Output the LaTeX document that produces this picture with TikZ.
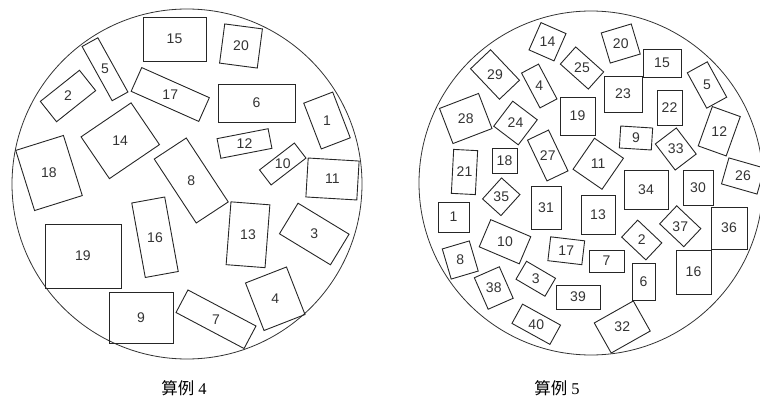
\documentclass[tikz,border=0pt]{standalone}
\usepackage{fontspec}
\setmainfont{Liberation Serif}
\setsansfont{Liberation Sans}
\newfontfamily\cjk{Noto Sans CJK SC}
\usepackage{tikz}

\tikzset{
  piece/.style={draw=black!85,line width=0.9pt,rectangle,inner sep=0pt},
  num/.style={font=\sffamily\fontsize{14}{14}\selectfont,text=black!80,inner sep=0pt},
  disc/.style={draw=black!80,line width=0.8pt},
  caption/.style={font=\fontsize{16.5}{16.5}\selectfont,inner sep=0pt}
}

\begin{document}
\begin{tikzpicture}[x=1pt,y=-1pt]
		\useasboundingbox (0,0) rectangle (760,409);
		\clip (0,0) rectangle (760,409);

		% >>> case 4
		\draw[disc] (187,184) circle[radius=175pt];

		\node[piece,minimum width=63pt,minimum height=44pt] (a15) at (174.5,39) {};
		\node[num] (a15n) at (a15) {15};
		\node[piece,minimum width=38pt,minimum height=39.5pt,rotate=-7.5] (a20) at (241,46) {};
		\node[num] (a20n) at (a20) {20};
		\node[piece,minimum width=62pt,minimum height=18pt,rotate=-61] (a5) at (105,69.25) {};
		\node[num] (a5n) at (a5) {5};
		\node[piece,minimum width=50pt,minimum height=26pt,rotate=38.5] (a2) at (68,96) {};
		\node[num] (a2n) at (a2) {2};
		\node[piece,minimum width=74pt,minimum height=26pt,rotate=-24] (a17) at (170.25,94.5) {};
		\node[num] (a17n) at (a17) {17};
		\node[piece,minimum width=77pt,minimum height=38pt] (a6) at (256.5,103) {};
		\node[num] (a6n) at (a6) {6};
		\node[piece,minimum width=31pt,minimum height=49pt,rotate=21] (a1) at (327,120.5) {};
		\node[num] (a1n) at (a1) {1};
		\node[piece,minimum width=52pt,minimum height=20pt,rotate=11] (a12) at (244.5,143.5) {};
		\node[num] (a12n) at (a12) {12};
		\node[piece,minimum width=44pt,minimum height=19pt,rotate=37.6] (a10) at (282.75,164) {};
		\node[num] (a10n) at (a10) {10};
		\node[piece,minimum width=51pt,minimum height=39pt,rotate=-3.4] (a11) at (332.5,179) {};
		\node[num] (a11n) at (a11) {11};
		\node[piece,minimum width=60.5pt,minimum height=50.5pt,rotate=34.2] (a14) at (120.25,140.75) {};
		\node[num] (a14n) at (a14) {14};
		\node[piece,minimum width=50pt,minimum height=63pt,rotate=17.4] (a18) at (49,173) {};
		\node[num] (a18n) at (a18) {18};
		\node[piece,minimum width=38.3pt,minimum height=76.5pt,rotate=33.3] (a8) at (191.25,180.5) {};
		\node[num] (a8n) at (a8) {8};
		\node[piece,minimum width=39pt,minimum height=63pt,rotate=-4.4] (a13) at (248,234.75) {};
		\node[num] (a13n) at (a13) {13};
		\node[piece,minimum width=59.7pt,minimum height=35.8pt,rotate=-31.3] (a3) at (314.25,234) {};
		\node[num] (a3n) at (a3) {3};
		\node[piece,minimum width=33.5pt,minimum height=75.7pt,rotate=10.3] (a16) at (155,237.25) {};
		\node[num] (a16n) at (a16) {16};
		\node[piece,minimum width=76pt,minimum height=64pt] (a19) at (83,256) {};
		\node[num] (a19n) at (a19) {19};
		\node[piece,minimum width=64pt,minimum height=51pt] (a9) at (141,317.5) {};
		\node[num] (a9n) at (a9) {9};
		\node[piece,minimum width=77pt,minimum height=25.5pt,rotate=-27.9] (a7) at (216,319.25) {};
		\node[num] (a7n) at (a7) {7};
		\node[piece,minimum width=44pt,minimum height=51pt,rotate=21.3] (a4) at (275.25,298.75) {};
		\node[num] (a4n) at (a4) {4};

		\node[caption] (capA) at (184,388) {{\cjk 算例} 4};
		% <<< case 4

		% >>> case 5
		\draw[disc] (591,183) circle[radius=172pt];

		\node[piece,minimum width=27.3pt,minimum height=29.8pt,rotate=-23.7] (b14) at (547.5,41.75) {};
		\node[num] (b14n) at (b14) {14};
		\node[piece,minimum width=37.5pt,minimum height=23pt,rotate=-41.8] (b25) at (582,68) {};
		\node[num] (b25n) at (b25) {25};
		\node[piece,minimum width=31.3pt,minimum height=31.4pt,rotate=16.7] (b20) at (620.75,43.5) {};
		\node[num] (b20n) at (b20) {20};
		\node[piece,minimum width=38pt,minimum height=28pt] (b15) at (662,63) {};
		\node[num] (b15n) at (b15) {15};
		\node[piece,minimum width=22.8pt,minimum height=40.3pt,rotate=28.8] (b5) at (707,85) {};
		\node[num] (b5n) at (b5) {5};
		\node[piece,minimum width=29.7pt,minimum height=41.8pt,rotate=-19.7] (b12) at (719.25,131.25) {};
		\node[num] (b12n) at (b12) {12};
		\node[piece,minimum width=37pt,minimum height=27pt,rotate=-16] (b26) at (743,176) {};
		\node[num] (b26n) at (b26) {26};
		\node[piece,minimum width=38pt,minimum height=36pt] (b23) at (623,94) {};
		\node[num] (b23n) at (b23) {23};
		\node[piece,minimum width=25pt,minimum height=35pt] (b22) at (669.5,107.5) {};
		\node[num] (b22n) at (b22) {22};
		\node[piece,minimum width=32pt,minimum height=22pt,rotate=-3.6] (b9) at (636,138) {};
		\node[num] (b9n) at (b9) {9};
		\node[piece,minimum width=26.4pt,minimum height=32.8pt,rotate=37.3] (b33) at (675.75,149) {};
		\node[num] (b33n) at (b33) {33};
		\node[piece,minimum width=27.6pt,minimum height=42pt,rotate=43.5] (b29) at (495,74.5) {};
		\node[num] (b29n) at (b29) {29};
		\node[piece,minimum width=19.2pt,minimum height=39.4pt,rotate=27.9] (b4) at (539.25,86) {};
		\node[num] (b4n) at (b4) {4};
		\node[piece,minimum width=35pt,minimum height=38pt] (b19) at (577.5,116) {};
		\node[num] (b19n) at (b19) {19};
		\node[piece,minimum width=41.8pt,minimum height=37.6pt,rotate=21] (b28) at (465.75,118.5) {};
		\node[num] (b28n) at (b28) {28};
		\node[piece,minimum width=31.4pt,minimum height=30.8pt,rotate=52.8] (b24) at (515.5,123) {};
		\node[num] (b24n) at (b24) {24};
		\node[piece,minimum width=25pt,minimum height=25pt] (b18) at (504.5,160.5) {};
		\node[num] (b18n) at (b18) {18};
		\node[piece,minimum width=24pt,minimum height=44pt,rotate=-3] (b21) at (464.5,172) {};
		\node[num] (b21n) at (b21) {21};
		\node[piece,minimum width=23.3pt,minimum height=45.2pt,rotate=25.5] (b27) at (547.75,155.5) {};
		\node[num] (b27n) at (b27) {27};
		\node[piece,minimum width=35.2pt,minimum height=37.7pt,rotate=-34.6] (b11) at (598.25,163.75) {};
		\node[num] (b11n) at (b11) {11};
		\node[piece,minimum width=44pt,minimum height=39pt] (b34) at (646,189.5) {};
		\node[num] (b34n) at (b34) {34};
		\node[piece,minimum width=30pt,minimum height=35pt] (b30) at (698,187.5) {};
		\node[num] (b30n) at (b30) {30};
		\node[piece,minimum width=36pt,minimum height=42pt] (b36) at (729,228) {};
		\node[num] (b36n) at (b36) {36};
		\node[piece,minimum width=35pt,minimum height=44pt] (b16) at (693.5,272) {};
		\node[num] (b16n) at (b16) {16};
		\node[piece,minimum width=24.8pt,minimum height=33.2pt,rotate=46.6] (b37) at (680.25,226.25) {};
		\node[num] (b37n) at (b37) {37};
		\node[piece,minimum width=23.3pt,minimum height=33.2pt,rotate=46.7] (b2) at (641.75,240) {};
		\node[num] (b2n) at (b2) {2};
		\node[piece,minimum width=23pt,minimum height=37pt] (b6) at (643.5,281.5) {};
		\node[num] (b6n) at (b6) {6};
		\node[piece,minimum width=44.8pt,minimum height=34.5pt,rotate=29.4] (b32) at (622.25,327) {};
		\node[num] (b32n) at (b32) {32};
		\node[piece,minimum width=35pt,minimum height=22pt] (b7) at (606.5,261) {};
		\node[num] (b7n) at (b7) {7};
		\node[piece,minimum width=34pt,minimum height=39pt] (b13) at (598,214.5) {};
		\node[num] (b13n) at (b13) {13};
		\node[piece,minimum width=30pt,minimum height=43pt] (b31) at (546,207.5) {};
		\node[num] (b31n) at (b31) {31};
		\node[piece,minimum width=34.2pt,minimum height=24pt,rotate=-6.7] (b17) at (566.25,250.75) {};
		\node[num] (b17n) at (b17) {17};
		\node[piece,minimum width=44pt,minimum height=24pt] (b39) at (578,297) {};
		\node[num] (b39n) at (b39) {39};
		\node[piece,minimum width=28.3pt,minimum height=24.8pt,rotate=47.9] (b35) at (501.25,196.75) {};
		\node[num] (b35n) at (b35) {35};
		\node[piece,minimum width=31pt,minimum height=30pt] (b1) at (453.5,217) {};
		\node[num] (b1n) at (b1) {1};
		\node[piece,minimum width=43.5pt,minimum height=29.5pt,rotate=-23] (b10) at (505,241.75) {};
		\node[num] (b10n) at (b10) {10};
		\node[piece,minimum width=28.2pt,minimum height=31.4pt,rotate=16.5] (b8) at (460.25,260) {};
		\node[num] (b8n) at (b8) {8};
		\node[piece,minimum width=27.3pt,minimum height=34.4pt,rotate=23.7] (b38) at (493.75,288) {};
		\node[num] (b38n) at (b38) {38};
		\node[piece,minimum width=33.6pt,minimum height=20.8pt,rotate=-30.4] (b3) at (535.75,278.75) {};
		\node[num] (b3n) at (b3) {3};
		\node[piece,minimum width=43.4pt,minimum height=22pt,rotate=-28.9] (b40) at (536.25,324.25) {};
		\node[num] (b40n) at (b40) {40};

		\node[caption] (capB) at (557,388) {{\cjk 算例} 5};
		% <<< case 5

	\end{tikzpicture}
\end{document}
